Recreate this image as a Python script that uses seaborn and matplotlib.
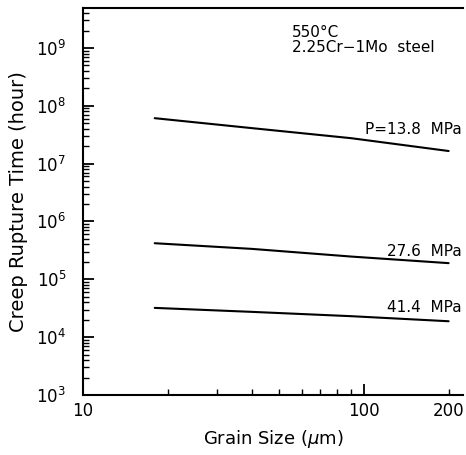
import matplotlib
matplotlib.use("Agg")
import matplotlib.pyplot as plt
import matplotlib.ticker as mticker
import seaborn as sns
import pandas as pd

grain_size = [18, 40, 90, 200]
t_13_8 = [6.1e7, 4.1e7, 2.75e7, 1.65e7]
t_27_6 = [4.2e5, 3.35e5, 2.47e5, 1.9e5]
t_41_4 = [3.2e4, 2.73e4, 2.3e4, 1.88e4]
series_names = ["P=13.8  MPa", "27.6  MPa", "41.4  MPa"]

rows = []
for name, vals in zip(series_names, [t_13_8, t_27_6, t_41_4]):
    for g, v in zip(grain_size, vals):
        rows.append({"grain": g, "time": v, "series": name})
df = pd.DataFrame(rows)

sns.set_theme(style="white")
plt.rcParams['font.family'] = ['DejaVu Sans']

fig = plt.figure(figsize=(4.66, 4.55), dpi=100)
ax = fig.add_axes([0.178, 0.132, 0.8156, 0.8504])

sns.lineplot(data=df, x="grain", y="time", units="series", estimator=None,
             color="black", linewidth=1.5, ax=ax, legend=False)

ax.set_xscale("log")
ax.set_yscale("log")
ax.set_xlim(10, 225)
ax.set_ylim(1e3, 4.9e9)

ax.xaxis.set_major_locator(mticker.FixedLocator([10, 100]))
ax.xaxis.set_major_formatter(mticker.FixedFormatter(["10", "100"]))
minor_x = [20, 30, 40, 50, 60, 70, 80, 90, 200]
ax.xaxis.set_minor_locator(mticker.FixedLocator(minor_x))
ax.xaxis.set_minor_formatter(mticker.FixedFormatter(["", "", "", "", "", "", "", "", "200"]))

ax.yaxis.set_major_locator(mticker.LogLocator(base=10, numticks=20))
ax.yaxis.set_minor_locator(mticker.LogLocator(base=10, subs=range(2, 10), numticks=20))
ax.yaxis.set_minor_formatter(mticker.NullFormatter())

ax.tick_params(axis="both", which="both", direction="in", colors="black",
               labelsize=12, top=False, right=False, bottom=True, left=True)
ax.tick_params(axis="both", which="major", length=8, width=1.3)
ax.tick_params(axis="both", which="minor", length=4, width=1.0)
ax.tick_params(axis="x", which="both", pad=5)
ax.tick_params(axis="y", which="both", pad=12)

for side in ["left", "bottom", "top"]:
    ax.spines[side].set_visible(True)
    ax.spines[side].set_color("black")
    ax.spines[side].set_linewidth(1.5)
ax.spines["right"].set_visible(False)

ax.set_xlabel("Grain Size ($\\mu$m)", fontsize=13, color="black", labelpad=6)
ax.set_ylabel("Creep Rupture Time (hour)", fontsize=14, color="black", labelpad=6)

label_y = [t_13_8[-1] * 2.4, t_27_6[-1] * 1.6, t_41_4[-1] * 1.73]
for name, yv in zip(series_names, label_y):
    ax.text(222, yv, name, ha="right", va="center", fontsize=11, color="black")

ax.text(0.55, 0.955, "550°C\n2.25Cr\u22121Mo  steel", transform=ax.transAxes,
        ha="left", va="top", fontsize=11, color="black", linespacing=0.95)

fig.savefig("out.png", dpi=100)
